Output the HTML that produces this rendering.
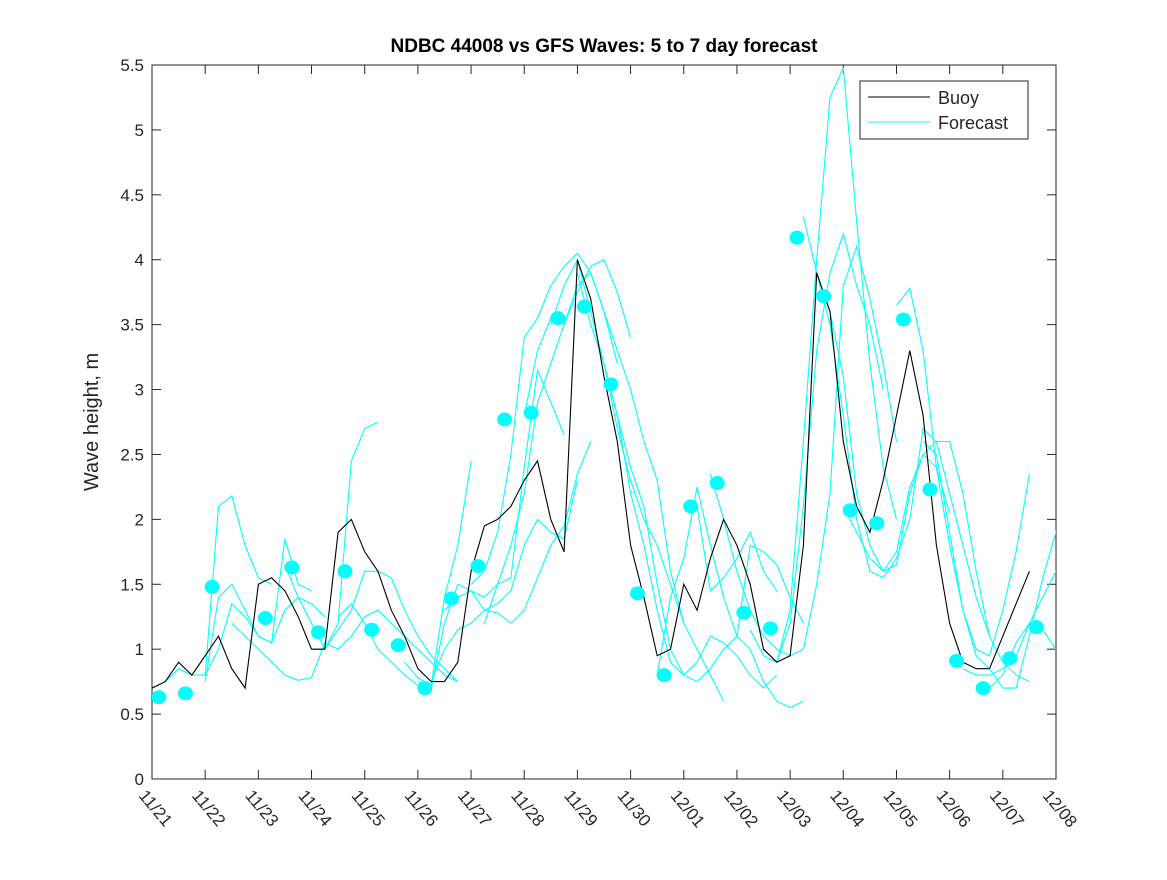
<!DOCTYPE html>
<html><head><meta charset="utf-8"><style>
body{margin:0;background:#fff;}
svg text{font-family:"Liberation Sans","DejaVu Sans",sans-serif;fill:#262626;}
</style></head><body>
<svg id="chart" width="1167" height="875" xmlns="http://www.w3.org/2000/svg">
<defs><clipPath id="plotclip"><rect x="152" y="65" width="904" height="714"/></clipPath></defs>
<rect width="1167" height="875" fill="#fff"/>
<text x="604" y="52" font-size="19" font-weight="bold" text-anchor="middle" style="fill:#000">NDBC 44008 vs GFS Waves: 5 to 7 day forecast</text>
<text transform="translate(98,422) rotate(-90)" font-size="20" text-anchor="middle">Wave height, m</text>
<g id="axes"></g>
<g id="marks" clip-path="url(#plotclip)"></g>
<g id="legend">
<rect x="860" y="81" width="168" height="58" fill="#fff" stroke="#262626" stroke-width="1"/>
<line x1="868" y1="97" x2="930" y2="97" stroke="#000" stroke-width="1"/>
<text x="938" y="104" font-size="18">Buoy</text>
<line x1="868" y1="122" x2="930" y2="122" stroke="#00ffff" stroke-width="1"/>
<text x="938" y="129" font-size="18">Forecast</text>
</g>
</svg>
<script>
const xTickLabels=["11/21","11/22","11/23","11/24","11/25","11/26","11/27","11/28","11/29","11/30","12/01","12/02","12/03","12/04","12/05","12/06","12/07","12/08"];
const yTickValues=[0,0.5,1,1.5,2,2.5,3,3.5,4,4.5,5,5.5];
const yTickLabels=["0","0.5","1","1.5","2","2.5","3","3.5","4","4.5","5","5.5"];
const buoyStep=0.25;
const buoyValues=[0.7,0.75,0.9,0.8,0.95,1.1,0.85,0.7,1.5,1.55,1.45,1.25,1.0,1.0,1.9,2.0,1.75,1.6,1.3,1.1,0.85,0.75,0.75,0.9,1.6,1.95,2.0,2.1,2.3,2.45,2.0,1.75,4.0,3.7,3.1,2.6,1.8,1.4,0.95,1.0,1.5,1.3,1.7,2.0,1.8,1.5,1.0,0.9,0.95,1.8,3.9,3.6,2.6,2.1,1.9,2.3,2.8,3.3,2.8,1.8,1.2,0.9,0.85,0.85,1.1,1.35,1.6];
const dotDays=[0.13,0.63,1.13,2.13,2.63,3.13,3.63,4.13,4.63,5.13,5.63,6.13,6.63,7.13,7.63,8.13,8.63,9.13,9.63,10.13,10.63,11.13,11.63,12.13,12.63,13.13,13.63,14.13,14.63,15.13,15.63,16.13,16.63];
const dotValues=[0.63,0.66,1.48,1.24,1.63,1.13,1.6,1.15,1.03,0.7,1.39,1.64,2.77,2.82,3.55,3.64,3.04,1.43,0.8,2.1,2.28,1.28,1.16,4.17,3.72,2.07,1.97,3.54,2.23,0.91,0.7,0.93,1.17];
const forecastStep=0.25;
const forecastStarts=[0,1,1,2.5,1.5,3,3.25,3.5,4.75,5,5.25,5.5,6,6.25,7,7.5,8,8.5,9.5,10.25,10.5,11.25,11.5,12.25,12.5,13,14,14.5,15.25,15.75];
const forecastValues=[
[0.7,0.75,0.85,0.8,0.8,2.1,2.18,1.8,1.55,1.5],
[0.75,1.4,1.5,1.3,1.1,1.05,1.85,1.5,1.45],
[0.8,1.0,1.35,1.25,1.1,1.05,1.3,1.4,1.35,1.25],
[1.65,1.4,1.2,1.0],
[1.2,1.1,1.0,0.9,0.8,0.76,0.78,1.05,1.0,1.1,1.25,1.3,1.2,1.1,1.0,0.9,0.8,0.75],
[1.0,1.0,1.2,2.45,2.7,2.75],
[1.0,1.15,1.3,1.6,1.6,1.55,1.3,1.1,0.95,0.85,0.75],
[1.25,1.35,1.2,1.0,0.9,0.8,0.72],
[0.9,0.78,0.72,1.4,1.8,2.45],
[0.75,0.7,1.2,1.5,1.45,1.3,1.35,1.45,1.8,2.0,1.9,1.85,2.3],
[0.75,1.0,1.15,1.2,1.3,1.28,1.2,1.3,1.55,1.8,1.95,2.35,2.6],
[1.3,1.4,1.45,1.4,1.5,1.55,2.4,3.15,2.9,2.65],
[1.5,1.6,1.9,2.5,3.4,3.55,3.8,3.95,4.05,3.9,3.6,3.2],
[1.2,1.5,1.8,2.2,2.9,3.2,3.5,3.75,3.95,4.0,3.75,3.4],
[2.8,3.3,3.55,3.5,3.8,3.9,3.6,3.3,3.0,2.6,2.3,1.6,1.2],
[3.5,3.8,4.0,3.6,3.2,2.7,2.3,2.0,1.8,1.5,1.2,1.0,0.8,0.6],
[3.9,3.5,3.2,2.8,2.2,1.8,1.3,0.9,0.8,0.9,1.1,1.05,0.95,0.8,0.7,0.8],
[3.2,2.8,2.4,2.1,1.5,1.0,0.8,0.75,0.85,1.0,1.1,1.0,0.75,0.6,0.55,0.6],
[0.8,1.4,1.7,2.25,1.8,1.4,1.1,1.8,1.75,1.65,1.4,1.2],
[2.1,1.45,1.55,1.7,1.9,1.6,1.45],
[2.35,2.0,1.6,1.3,1.1,1.0,0.95,1.0,1.5,2.2,3.8,4.1,3.7,3.2,2.6],
[1.15,0.95,0.9,1.2,2.1,3.3,3.9,4.2,3.8,3.5,3.0],
[1.0,0.9,1.3,2.6,4.0,5.25,5.48,4.3,3.2,2.4,2.0],
[4.33,3.9,3.6,3.1,2.2,1.8,1.6,1.75,2.25,2.5,2.4,2.05],
[3.9,3.5,2.8,2.0,1.6,1.55,1.7,2.0,2.7,2.6,2.2,1.8,1.4,1.1],
[2.1,1.9,1.7,1.6,1.65,2.2,2.5,2.6,2.6,2.2,1.6,1.1,0.9,0.8,0.75],
[3.65,3.78,3.3,2.4,1.8,1.3,1.0,0.95,1.3,1.75,2.35],
[2.6,2.5,1.9,1.3,0.95,0.85,0.7,0.7,1.1,1.55,1.9,2.35],
[0.85,0.8,0.8,0.85,0.95,1.2,1.4,1.6,1.45,1.3,1.0,1.0,1.3],
[0.7,0.8,1.05,1.2,1.15,1.0,0.9,0.85,0.95,1.95]
];
const X0=152,X1=1056,Y0=779,Y1=65,XMAX=17,YMAX=5.5;
function xs(d){return X0+(X1-X0)*d/XMAX;}
function ys(v){return Y0-(Y0-Y1)*v/YMAX;}
const NS="http://www.w3.org/2000/svg";
function mk(tag,attrs,parent){const e=document.createElementNS(NS,tag);for(const k in attrs)e.setAttribute(k,attrs[k]);parent.appendChild(e);return e;}
const axes=document.getElementById('axes'),marks=document.getElementById('marks');
const frame=mk('rect',{x:X0,y:Y1,width:X1-X0,height:Y0-Y1,fill:'none',stroke:'#262626','stroke-width':1},axes);


xTickLabels.forEach((lab,i)=>{
  const x=xs(i);
  mk('line',{x1:x,y1:Y0,x2:x,y2:Y0-9,stroke:'#262626'},axes);
  mk('line',{x1:x,y1:Y1,x2:x,y2:Y1+9,stroke:'#262626'},axes);
  const t=mk('text',{x:0,y:0,'font-size':17,transform:`translate(${x-14},${Y0+17}) rotate(50)`},axes);
  t.textContent=lab;
  
  
});
yTickValues.forEach((v,i)=>{
  const y=ys(v);
  mk('line',{x1:X0,y1:y,x2:X0+9,y2:y,stroke:'#262626'},axes);
  mk('line',{x1:X1,y1:y,x2:X1-9,y2:y,stroke:'#262626'},axes);
  const t=mk('text',{x:X0-8,y:y+6,'font-size':17,'text-anchor':'end'},axes);
  t.textContent=yTickLabels[i];
  
  
});
forecastValues.forEach((vals,i)=>{
  const pts=vals.map((v,j)=>xs(forecastStarts[i]+j*forecastStep).toFixed(1)+','+ys(v).toFixed(1)).join(' ');
  const p=mk('polyline',{points:pts,fill:'none',stroke:'#00ffff','stroke-width':1.1},marks);
  
  
});
let bp=[];
buoyValues.forEach((v,j)=>{bp.push(xs(j*buoyStep).toFixed(1)+','+ys(v).toFixed(1));});
const b=mk('polyline',{points:bp.join(' '),fill:'none',stroke:'#000','stroke-width':1.1},marks);


dotDays.forEach((d,i)=>{
  const c=mk('ellipse',{cx:xs(d),cy:ys(dotValues[i]),rx:7.5,ry:7,fill:'#00ffff'},marks);
  
  
});
</script>
</body></html>
